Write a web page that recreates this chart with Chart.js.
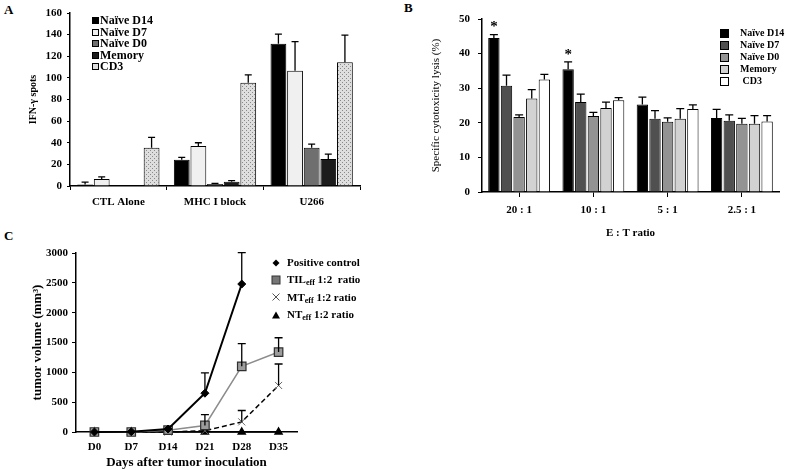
<!DOCTYPE html>
<html><head><meta charset="utf-8">
<script src="https://cdn.jsdelivr.net/npm/chart.js@4.4.1/dist/chart.umd.min.js"></script>
<style>
body{margin:0;width:787px;height:470px;background:#fff;position:relative;overflow:hidden;font-family:'Liberation Serif',serif;color:#000;}
.box{position:absolute;}
.panel{position:absolute;font-weight:bold;font-size:13px;}
.leg{position:absolute;font-weight:bold;white-space:nowrap;}
.row{display:flex;align-items:center;}
.sw{display:inline-block;box-sizing:border-box;border:1px solid #000;}
sub{font-size:8px;vertical-align:-2px;line-height:0;}
</style></head>
<body>
<div class="panel" style="left:4px;top:2px">A</div>
<div class="panel" style="left:404px;top:0px">B</div>
<div class="panel" style="left:4px;top:228px">C</div>

<div class="box" style="left:0;top:0;width:400px;height:225px"><canvas id="cA" width="400" height="225"></canvas></div>
<div class="box" style="left:400px;top:0;width:387px;height:250px"><canvas id="cB" width="387" height="250"></canvas></div>
<div class="box" style="left:0;top:225px;width:400px;height:245px"><canvas id="cC" width="400" height="245"></canvas></div>

<div class="leg" id="legA" style="left:92px;top:15px;font-size:12px;line-height:11.5px"></div>
<div class="leg" id="legB" style="left:720px;top:27px;font-size:10px;line-height:12px"></div>
<div class="leg" id="legC" style="left:271px;top:254px;font-size:11px;line-height:17.3px"></div>

<script>
// ---------- Panel A data ----------
const groupsA = ['CTL Alone', 'MHC I block', 'U266'];
const seriesA = ['Naïve D14', 'Naïve D7', 'Naïve D0', 'Memory', 'CD3'];
const naiveD14A = [1.5, 24.3, 131.5];
const naiveD14ErrA = [2, 2.2, 9];
const naiveD7A = [6.5, 37, 106.5];
const naiveD7ErrA = [2, 3, 27];
const naiveD0A = [0, 1.8, 35.4];
const naiveD0ErrA = [0, 0.7, 3.4];
const memoryA = [0, 4, 25];
const memoryErrA = [0, 1, 4.5];
const cd3A = [35.4, 95.4, 114.5];
const cd3ErrA = [9.5, 7.4, 25];
const ticksA = [0, 20, 40, 60, 80, 100, 120, 140, 160];

// ---------- Panel B data ----------
const ratiosB = ['20 : 1', '10 : 1', '5 : 1', '2.5 : 1'];
const seriesB = ['Naïve D14', 'Naïve D7', 'Naïve D0', 'Memory', ' CD3'];
const naiveD14B = [44.5, 35.5, 25.3, 21.4];
const naiveD14ErrB = [1, 2.1, 2.1, 2.5];
const naiveD7B = [30.7, 26, 21.2, 20.6];
const naiveD7ErrB = [3.1, 2.3, 2.3, 1.7];
const naiveD0B = [21.7, 22, 20.3, 19.7];
const naiveD0ErrB = [0.6, 1, 1.1, 1.6];
const memoryB = [27, 24.3, 21.2, 19.7];
const memoryErrB = [2.6, 1.7, 2.9, 2.4];
const cd3B = [32.5, 26.5, 24, 20.4];
const cd3ErrB = [1.5, 0.8, 1.2, 1.7];
const significantB = [true, true, false, false];   // asterisks over Naïve D14

// ---------- Panel C data ----------
const daysC = ['D0', 'D7', 'D14', 'D21', 'D28', 'D35'];
const seriesC = ['Positive control', 'TILeff 1:2  ratio', 'MTeff 1:2 ratio', 'NTeff 1:2 ratio'];
const seriesCHtml = ['Positive control', 'TIL<sub>eff</sub> 1:2&nbsp; ratio', 'MT<sub>eff</sub> 1:2 ratio', 'NT<sub>eff</sub> 1:2 ratio'];
const positiveC = [0, 5, 50, 650, 2480, null];
const positiveErrC = [0, 0, 0, 340, 525, 0];
const tilC = [0, 0, 30, 110, 1100, 1340];
const tilErrC = [0, 0, 0, 180, 380, 240];
const mtC = [0, 0, 0, 20, 170, 780];
const mtErrC = [0, 0, 0, 0, 190, 360];
const ntC = [0, 0, 0, 0, 0, 0];
const ntErrC = [0, 0, 0, 0, 0, 0];

Chart.defaults.font.family = "'Liberation Serif', 'Times New Roman', serif";
Chart.defaults.color = '#000';

function dotPattern() {
  const c = document.createElement('canvas');
  c.width = 4; c.height = 4;
  const g = c.getContext('2d');
  g.fillStyle = '#dedede'; g.fillRect(0, 0, 4, 4);
  g.fillStyle = '#8a8a8a'; g.fillRect(0, 0, 1, 1); g.fillRect(2, 2, 1, 1);
  return g.createPattern(c, 'repeat');
}

const errorBars = {
  id: 'errorBars',
  afterDatasetsDraw(chart, args, opts) {
    const ctx = chart.ctx, y = chart.scales.y;
    chart.data.datasets.forEach((ds, di) => {
      if (!ds.errors) return;
      const meta = chart.getDatasetMeta(di);
      ctx.save();
      ctx.strokeStyle = opts.color || '#000';
      ctx.lineWidth = opts.width || 1.3;
      meta.data.forEach((el, i) => {
        const v = ds.data[i], e = ds.errors[i];
        if (v == null || !e) return;
        const y0 = y.getPixelForValue(v), y1 = y.getPixelForValue(v + e);
        ctx.beginPath();
        ctx.moveTo(el.x, y0); ctx.lineTo(el.x, y1);
        ctx.moveTo(el.x - opts.cap / 2, y1); ctx.lineTo(el.x + opts.cap / 2, y1);
        ctx.stroke();
      });
      ctx.restore();
    });
    if (opts.stars) {
      const ds = chart.data.datasets[opts.stars.dataset];
      const meta = chart.getDatasetMeta(opts.stars.dataset);
      ctx.save();
      ctx.font = "bold 15px 'Liberation Serif', serif";
      ctx.textAlign = 'center'; ctx.textBaseline = 'middle'; ctx.fillStyle = '#000';
      meta.data.forEach((el, i) => {
        if (!opts.stars.flags[i]) return;
        const top = y.getPixelForValue(ds.data[i] + (ds.errors ? ds.errors[i] : 0));
        ctx.fillText('*', el.x, top - 7);
      });
      ctx.restore();
    }
  }
};

const tickFont = { size: 11, weight: 'bold' };
const plain = v => String(v);

// ---------- Chart A ----------
const colorsA = ['#000000', '#f0f0f0', '#6f6f6f', '#1c1c1c', dotPattern()];
const valsA = [naiveD14A, naiveD7A, naiveD0A, memoryA, cd3A];
const errsA = [naiveD14ErrA, naiveD7ErrA, naiveD0ErrA, memoryErrA, cd3ErrA];
new Chart(document.getElementById('cA'), {
  type: 'bar',
  data: {
    labels: groupsA,
    datasets: seriesA.map((n, i) => ({
      label: n, data: valsA[i], errors: errsA[i],
      backgroundColor: colorsA[i], borderColor: '#000', borderWidth: 1
    }))
  },
  options: {
    responsive: false, animation: false,
    layout: { padding: { top: 13, right: 40, left: 0, bottom: 0 } },
    datasets: { bar: { categoryPercentage: 0.86, barPercentage: 0.95 } },
    plugins: { legend: { display: false }, tooltip: { enabled: false }, errorBars: { cap: 7, width: 1.3 } },
    scales: {
      x: {
        grid: { drawOnChartArea: false, tickLength: 4, color: '#000' },
        border: { color: '#000', width: 1.5 },
        ticks: { padding: 6, font: tickFont },
        afterFit: s => { s.height = 39; }
      },
      y: {
        min: ticksA[0], max: ticksA[ticksA.length - 1],
        ticks: { stepSize: ticksA[1] - ticksA[0], padding: 5, font: tickFont, callback: plain },
        grid: { drawOnChartArea: false, tickLength: 3, color: '#000' },
        border: { color: '#000', width: 1.5 },
        title: { display: true, text: 'IFN-γ spots', font: { size: 10, weight: 'bold' }, padding: { top: 27, bottom: 0 } },
        afterFit: s => { s.width = 70; }
      }
    }
  },
  plugins: [errorBars]
});

// ---------- Chart B ----------
const colorsB = ['#000000', '#505050', '#939393', '#d2d2d2', '#ffffff'];
const valsB = [naiveD14B, naiveD7B, naiveD0B, memoryB, cd3B];
const errsB = [naiveD14ErrB, naiveD7ErrB, naiveD0ErrB, memoryErrB, cd3ErrB];
new Chart(document.getElementById('cB'), {
  type: 'bar',
  data: {
    labels: ratiosB,
    datasets: seriesB.map((n, i) => ({
      label: n, data: valsB[i], errors: errsB[i],
      backgroundColor: colorsB[i], borderColor: '#000', borderWidth: 1
    }))
  },
  options: {
    responsive: false, animation: false,
    layout: { padding: { top: 19, right: 8, left: 0, bottom: 6 } },
    datasets: { bar: { categoryPercentage: 0.85, barPercentage: 0.9 } },
    plugins: { legend: { display: false }, tooltip: { enabled: false },
      errorBars: { cap: 8, width: 1.3, stars: { dataset: 0, flags: significantB } } },
    scales: {
      x: {
        grid: { drawOnChartArea: false, offset: false, tickLength: 5, color: '#000' },
        border: { color: '#000', width: 1.5 },
        ticks: { padding: 7, font: tickFont },
        title: { display: true, text: 'E : T ratio', font: { size: 11, weight: 'bold' }, padding: { top: 0, bottom: 4 } },
        afterFit: s => { s.height = 52; }
      },
      y: {
        min: 0, max: 50,
        ticks: { stepSize: 10, padding: 8, font: tickFont, callback: plain },
        grid: { drawOnChartArea: false, tickLength: 4, color: '#000' },
        border: { color: '#000', width: 1.5 },
        title: { display: true, text: 'Specific cytotoxicity lysis (%)', font: { size: 11 }, padding: { top: 30, bottom: 0 } },
        afterFit: s => { s.width = 82; }
      }
    }
  },
  plugins: [errorBars]
});

// ---------- Chart C ----------
new Chart(document.getElementById('cC'), {
  type: 'line',
  data: {
    labels: daysC,
    datasets: [
      { label: seriesC[0], data: positiveC, errors: positiveErrC, borderColor: '#000', backgroundColor: '#000',
        borderWidth: 2, pointStyle: 'rectRot', pointRadius: 4, pointBorderWidth: 1, clip: false },
      { label: seriesC[1], data: tilC, errors: tilErrC, borderColor: '#8c8c8c', backgroundColor: '#9c9c9c',
        pointBorderColor: '#303030', borderWidth: 1.5, pointStyle: 'rect', pointRadius: 6, pointBorderWidth: 1.2, clip: false },
      { label: seriesC[2], data: mtC, errors: mtErrC, borderColor: '#000', backgroundColor: '#666',
        pointBorderColor: '#666', borderDash: [5, 3], borderWidth: 1.5, pointStyle: 'crossRot', pointRadius: 5, pointBorderWidth: 1, clip: false },
      { label: seriesC[3], data: ntC, errors: ntErrC, borderColor: '#000', backgroundColor: '#000',
        borderWidth: 1.5, pointStyle: 'triangle', pointRadius: 4, clip: false }
    ]
  },
  options: {
    responsive: false, animation: false,
    layout: { padding: { top: 28, right: 103, left: 0, bottom: 0 } },
    plugins: { legend: { display: false }, tooltip: { enabled: false }, errorBars: { cap: 8, width: 1.3 } },
    scales: {
      x: {
        offset: true,
        grid: { drawOnChartArea: false, drawTicks: false },
        border: { color: '#000', width: 1.5 },
        ticks: { padding: 9, font: tickFont },
        title: { display: true, text: 'Days after tumor inoculation', font: { size: 13, weight: 'bold' }, padding: { top: 0, bottom: 0 } },
        afterFit: s => { s.height = 38; }
      },
      y: {
        min: 0, max: 3000,
        ticks: { stepSize: 500, padding: 4, font: tickFont, callback: plain },
        grid: { drawOnChartArea: false, tickLength: 4, color: '#000' },
        border: { color: '#000', width: 1.5 },
        title: { display: true, text: 'tumor volume (mm³)', font: { size: 13, weight: 'bold' }, padding: { top: 30, bottom: 0 } },
        afterFit: s => { s.width = 76; }
      }
    }
  },
  plugins: [errorBars]
});

// ---------- HTML legends ----------
const legA = document.getElementById('legA');
seriesA.forEach((n, i) => {
  const bg = i === 4 ? 'background:#dedede;background-image:radial-gradient(#8a8a8a 0.6px, transparent 0.7px);background-size:2px 2px;' : 'background:' + colorsA[i] + ';';
  legA.insertAdjacentHTML('beforeend',
    `<div class="row" style="height:11.5px"><span class="sw" style="width:7px;height:7px;${bg}margin-right:1px"></span><span>${n}</span></div>`);
});
const legB = document.getElementById('legB');
seriesB.forEach((n, i) => {
  legB.insertAdjacentHTML('beforeend',
    `<div class="row" style="height:12px"><span class="sw" style="width:9px;height:9px;background:${colorsB[i]};margin-right:11px"></span><span style="white-space:pre">${n}</span></div>`);
});
const markersC = [
  '<svg width="10" height="10"><polygon points="5,1.5 8.5,5 5,8.5 1.5,5" fill="#000"/></svg>',
  '<svg width="10" height="10"><rect x="1" y="1" width="8" height="8" fill="#777" stroke="#333" stroke-width="1"/></svg>',
  '<svg width="10" height="10"><path d="M1.5,1.5 L8.5,8.5 M8.5,1.5 L1.5,8.5" stroke="#555" stroke-width="1"/></svg>',
  '<svg width="10" height="10"><polygon points="5,1.5 9,8.5 1,8.5" fill="#000"/></svg>'
];
const legC = document.getElementById('legC');
seriesCHtml.forEach((n, i) => {
  legC.insertAdjacentHTML('beforeend',
    `<div class="row" style="height:17.3px">${markersC[i]}<span style="margin-left:6px">${n}</span></div>`);
});
</script>
</body></html>
